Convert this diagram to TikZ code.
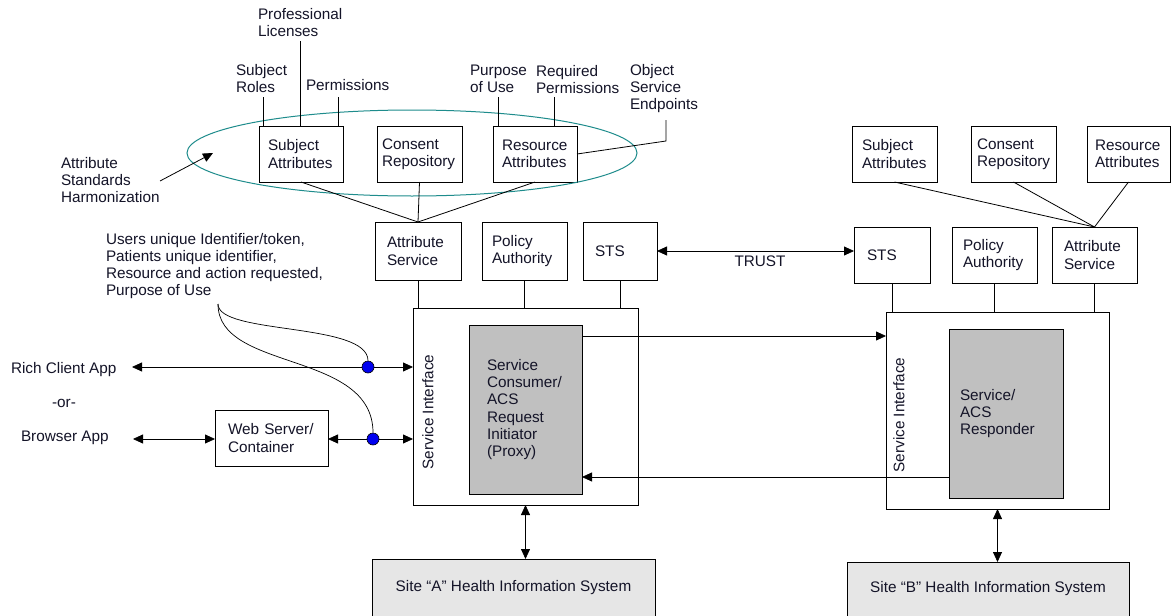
\documentclass[tikz,border=0pt]{standalone}
\usepackage{fontspec}
\setmainfont{Liberation Sans}
\usetikzlibrary{arrows.meta}
\definecolor{txt}{RGB}{20,20,40}
\definecolor{procgray}{RGB}{192,192,192}
\definecolor{sitegray}{RGB}{230,230,230}
\definecolor{ring}{RGB}{30,140,140}
\definecolor{tapdot}{RGB}{0,0,240}
\begin{document}
\begin{tikzpicture}[x=1pt,y=-1pt,
  every node/.style={font=\fontsize{15.3}{17.3}\selectfont, text=txt},
  lbl/.style={inner sep=0pt, outer sep=0pt, align=left},
  box/.style={draw, line width=1pt, outer sep=0pt, inner ysep=0pt, align=left, anchor=north west},
  proc/.style={box, fill=procgray},
  site/.style={draw, line width=1pt, outer sep=0pt, fill=sitegray, anchor=north west, align=center},
  conn/.style={line width=0.8pt},
  arr/.style={conn, -{Triangle[length=10pt,width=9pt]}},
  darr/.style={conn, {Triangle[length=10pt,width=9pt]}-{Triangle[length=10pt,width=9pt]}},
  tap/.style={circle, draw=black, line width=0.6pt, fill=tapdot, minimum size=12pt, inner sep=0pt}]
\useasboundingbox (0,0) rectangle (1171,616);
\fill[white] (0,0) rectangle (1171,616);

% ---------- site A: attribute sources ----------
\node[box, minimum width=84pt, minimum height=56pt, inner xsep=9pt, text width=66pt] (subA) at (259,126) {Subject\\Attributes};
\node[box, minimum width=85pt, minimum height=56pt, inner xsep=5pt, text width=75pt] (conA) at (377,126) {Consent\\Repository};
\node[box, minimum width=84pt, minimum height=56pt, inner xsep=9pt, text width=66pt] (resA) at (493,126) {Resource\\Attributes};

% harmonization ring
\draw[ring, line width=1pt] (412,153) ellipse [x radius=225pt, y radius=43pt];
\coordinate (harmTail) at (160,181);
\coordinate (harmTip) at (213,153);
\node[lbl, anchor=north west] (harm) at (61,157) {Attribute\\Standards\\Harmonization};
\draw[conn, -{Triangle[length=10pt,width=9pt]}] (harmTail) -- (harmTip);

% attribute annotations
\node[lbl, anchor=north west] (roles) at (236,64) {Subject\\Roles};
\node[lbl, anchor=north west] (lic) at (258,8) {Professional\\Licenses};
\node[lbl, anchor=north west] (perm) at (306,79) {Permissions};
\node[lbl, anchor=north west] (pou) at (470,65) {Purpose\\of Use};
\node[lbl, anchor=north west] (reqp) at (536,65) {Required\\Permissions};
\node[lbl, anchor=north west] (ose) at (630,64) {Object\\Service\\Endpoints};

\coordinate (rolesEnd) at (263,97);
\coordinate (licEnd) at (300,41);
\coordinate (permEnd) at (338,97);
\coordinate (pouEnd) at (498,97);
\coordinate (reqpEnd) at (554,97);
\coordinate (oseEnd) at (666,120);
\draw[conn] (rolesEnd) -- (rolesEnd |- subA.north);
\draw[conn] (licEnd) -- (licEnd |- subA.north);
\draw[conn] (permEnd) -- (permEnd |- subA.north);
\draw[conn] (pouEnd) -- (pouEnd |- resA.north);
\draw[conn] (reqpEnd) -- (reqpEnd |- resA.north);
\draw[conn] (oseEnd) -- ++(0,21) -- (resA.east);

% ---------- site A: services ----------
\node[box, minimum width=86pt, minimum height=58pt, inner xsep=12pt, text width=62pt] (attA) at (375,222) {Attribute\\Service};
\node[box, minimum width=85pt, minimum height=58pt, inner xsep=10pt, text width=65pt] (polA) at (482,222) {Policy\\Authority};
\node[box, minimum width=74pt, minimum height=58pt, inner xsep=12pt, text width=50pt] (stsA) at (583,222) {STS};

\draw[conn] (subA.south) -- (attA.north);
\draw[conn] (conA.south) -- (attA.north);
\draw[conn] (resA.south) -- (attA.north);

\node[box, minimum width=225pt, minimum height=197pt] (bigA) at (413,308) {};
\node[proc, minimum width=113pt, minimum height=169pt, inner xsep=18pt, text width=77pt] (grayA) at (469,325)
  {Service\\Consumer/\\ACS\\Request\\Initiator\\(Proxy)};
\node[lbl, rotate=90] (siA) at (428,412) {Service Interface};

\draw[conn] (attA.south) -- (attA.south |- bigA.north);
\draw[conn] (polA.south) -- (polA.south |- bigA.north);
\draw[conn] (stsA.south) -- (stsA.south |- bigA.north);

% ---------- site B ----------
\node[box, minimum width=85pt, minimum height=56pt, inner xsep=10pt, text width=65pt] (subB) at (852,126) {Subject\\Attributes};
\node[box, minimum width=85pt, minimum height=56pt, inner xsep=6pt, text width=73pt] (conB) at (971,126) {Consent\\Repository};
\node[box, minimum width=83pt, minimum height=56pt, inner xsep=8pt, text width=67pt] (resB) at (1087,126) {Resource\\Attributes};

\node[box, minimum width=76pt, minimum height=56pt, inner xsep=13pt, text width=50pt] (stsB) at (854,227) {STS};
\node[box, minimum width=85pt, minimum height=56pt, inner xsep=11pt, text width=63pt] (polB) at (952,227) {Policy\\Authority};
\node[box, minimum width=85pt, minimum height=56pt, inner xsep=12pt, text width=61pt] (attB) at (1052,227) {Attribute\\Service};

\draw[conn] (subB.south) -- (attB.north);
\draw[conn] (conB.south) -- (attB.north);
\draw[conn] (resB.south) -- (attB.north);

\node[box, minimum width=223pt, minimum height=197pt] (bigB) at (886,312) {};
\node[proc, minimum width=114pt, minimum height=169pt, inner xsep=11pt, text width=92pt] (grayB) at (949,329)
  {Service/\\ACS\\Responder};
\node[lbl, rotate=90] (siB) at (899,415) {Service Interface};

\draw[conn] (stsB.south) -- (stsB.south |- bigB.north);
\draw[conn] (polB.south) -- (polB.south |- bigB.north);
\draw[conn] (attB.south) -- (attB.south |- bigB.north);

% trust between token services
\draw[darr] (stsA.east) -- (stsA.east -| stsB.west);
\node[lbl, anchor=base] (trust) at (760,266) {TRUST};

% request / response between sites
\path ([yshift=-11pt]grayA.north east) coordinate (reqOut);
\draw[arr] (reqOut) -- (reqOut -| bigB.west);
\path ([yshift=21pt]grayB.south west) coordinate (respOut);
\draw[arr] (respOut) -- (respOut -| grayA.east);

% health information systems
\node[site, minimum width=283pt, minimum height=57pt] (siteA) at (372,559) {Site “A” Health Information System};
\node[site, minimum width=282pt, minimum height=54pt] (siteB) at (847,562) {Site “B” Health Information System};
\draw[darr] (bigA.south) -- (bigA.south |- siteA.north);
\draw[darr] (bigB.south) -- (bigB.south |- siteB.north);

% ---------- clients ----------
\node[lbl, anchor=base west] (rich) at (11,373) {Rich Client App};
\node[lbl, anchor=base] (orl) at (64,407) {-or-};
\node[lbl, anchor=base west] (browser) at (21,441) {Browser App};
\node[box, minimum width=113pt, minimum height=56pt, inner xsep=13pt, text width=87pt] (web) at (215,410) {Web Server/\\Container};

\coordinate (richEnd) at (132,367);
\coordinate (browserEnd) at (133,439);
\draw[darr] (richEnd) -- (richEnd -| bigA.west);
\draw[darr] (browserEnd) -- (browserEnd -| web.west);
\draw[darr] (web.east |- browserEnd) -- (browserEnd -| bigA.west);

\node[lbl, anchor=north west] (ids) at (106,233)
  {Users unique Identifier/token,\\Patients unique identifier,\\Resource and action requested,\\Purpose of Use};
\coordinate (fork) at (218,304);
\node[tap] (tap1) at (368,367) {};
\node[tap] (tap2) at (373,439) {};
\draw[conn, line width=0.7pt] (fork) .. controls (218,335) and (368,322) .. (tap1.north);
\draw[conn, line width=0.7pt] (fork) .. controls (218,372) and (373,350) .. (tap2.north);
\end{tikzpicture}
\end{document}
